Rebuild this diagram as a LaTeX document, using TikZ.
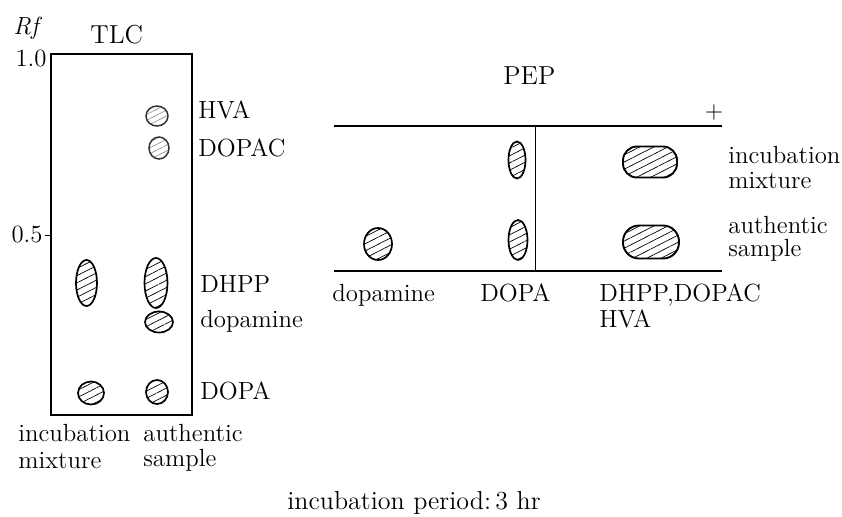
\documentclass[tikz,border=0pt]{standalone}
\usetikzlibrary{shapes.geometric,patterns.meta}
\begin{document}
\begin{tikzpicture}[x=0.5pt,y=-0.5pt,
  txt/.style={font=\fontsize{12.4}{13.5}\selectfont, inner sep=0pt, anchor=base west},
  txtr/.style={txt, anchor=base east},
  sz/.style 2 args={minimum width=#1*0.5pt, minimum height=#2*0.5pt},
  hatch/.style={pattern={Lines[angle=27,distance=3.2pt,line width=0.35pt]}},
  spot/.style={ellipse, draw, line width=0.85pt, inner sep=0pt, hatch},
  faint/.style={ellipse, draw=black!80, line width=0.75pt, inner sep=0pt,
    pattern={Lines[angle=27,distance=2.6pt,line width=0.3pt]}, pattern color=black!45},
  blob/.style={rectangle, rounded corners=#1, draw, line width=0.95pt, inner sep=0pt, hatch},
  plate/.style={line width=0.85pt},
  strip/.style={line width=0.7pt}]

\useasboundingbox (0,0) rectangle (842,516);

% ---------- TLC plate ----------
\node[txt] (rf) at (13,34) {\textit{Rf}};
\node[txt, font=\fontsize{13}{14}\selectfont] (tlc) at (90,43) {TLC};
\node[txtr] (r10) at (47,66) {1.0};
\node[txtr] (r05) at (43,242) {0.5};
\draw[plate] (51,54) rectangle (192,415);
\draw[line width=0.5pt] (45,235) -- (51,235);

% spots, incubation mixture lane
\node[spot, sz={21}{46}] (mixdhpp) at (86.5,283) {};
\node[spot, sz={26}{23}] (mixdopa) at (91,393) {};
% spots, authentic sample lane
\node[faint, sz={22}{20}] (authhva) at (157,116) {};
\node[faint, sz={20}{22}] (authdopac) at (159,148) {};
\node[spot, sz={23}{50}] (authdhpp) at (156,283) {};
\node[spot, sz={28}{21}] (authdopamine) at (159,322) {};
\node[spot, sz={22}{24}] (authdopa) at (157,392) {};

% spot names
\node[txt] (lhva) at (198,118) {HVA};
\node[txt] (ldopac) at (198,156) {DOPAC};
\node[txt] (ldhpp) at (200,292) {DHPP};
\node[txt] (ldopamine) at (200,327) {dopamine};
\node[txt] (ldopa) at (200,399) {DOPA};

% lane names
\node[txt] (lmix1) at (18,441) {incubation};
\node[txt] (lmix2) at (18,468) {mixture};
\node[txt] (lauth1) at (143,441) {authentic};
\node[txt] (lauth2) at (143,466) {sample};

% ---------- PEP strip ----------
\node[txt, font=\fontsize{13}{14}\selectfont] (pep) at (503,84) {PEP};
\node[txt, anchor=center] (plus) at (714,112) {$+$};
\draw[strip] (334,126) -- (722,126);
\draw[strip] (334,271) -- (722,271);
\draw[line width=0.6pt] (535.5,126) -- (535.5,271);

% upper row: incubation mixture
\node[spot, sz={17}{37}] (pdopaup) at (517,160) {};
\node[blob=7pt, sz={54}{31}] (pdhppup) at (650,162) {};
% lower row: authentic sample
\node[spot, sz={28}{32}] (pdopamine) at (378,244) {};
\node[spot, sz={19}{40}] (pdopalow) at (518,240) {};
\node[blob=8pt, sz={56}{33}] (pdhpplow) at (651,242) {};

% row names
\node[txt] (rmix1) at (728,163) {incubation};
\node[txt] (rmix2) at (728,188) {mixture};
\node[txt] (rauth1) at (728,233) {authentic};
\node[txt] (rauth2) at (728,256) {sample};

% band names
\node[txt] (bdopamine) at (332,301) {dopamine};
\node[txt] (bdopa) at (480,301) {DOPA};
\node[txt] (bdhpp) at (599,301) {DHPP,DOPAC};
\node[txt] (bhva) at (599,327) {HVA};

% ---------- caption ----------
\node[txt, font=\fontsize{13}{14}\selectfont] (caption) at (287,509) {incubation period:\,3 hr};
\end{tikzpicture}
\end{document}
